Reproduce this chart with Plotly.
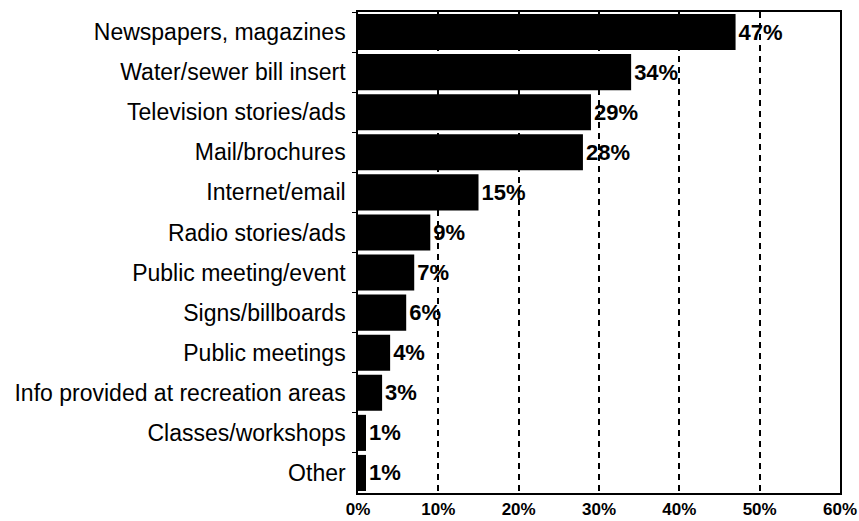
import plotly.graph_objects as go

categories = [
    "Newspapers, magazines",
    "Water/sewer bill insert",
    "Television stories/ads",
    "Mail/brochures",
    "Internet/email",
    "Radio stories/ads",
    "Public meeting/event",
    "Signs/billboards",
    "Public meetings",
    "Info provided at recreation areas",
    "Classes/workshops",
    "Other",
]
values = [47, 34, 29, 28, 15, 9, 7, 6, 4, 3, 1, 1]
x_tick_values = [0, 10, 20, 30, 40, 50, 60]
x_tick_labels = ["0%", "10%", "20%", "30%", "40%", "50%", "60%"]

FONT = "Liberation Sans, Arial, sans-serif"

fig = go.Figure(
    go.Bar(
        y=categories,
        x=values,
        orientation="h",
        marker=dict(color="black", line=dict(width=0)),
        text=[f"{v}%" for v in values],
        textposition="outside",
        textfont=dict(family=FONT, size=22, color="black", weight="bold"),
        cliponaxis=False,
    )
)

fig.update_layout(
    width=859,
    height=521,
    margin=dict(l=358, r=19, t=12, b=28, autoexpand=False),
    paper_bgcolor="white",
    plot_bgcolor="white",
    bargap=0.1,
    showlegend=False,
    font=dict(family=FONT, color="black"),
)

fig.update_xaxes(
    range=[0, 60],
    tickvals=x_tick_values,
    ticktext=x_tick_labels,
    tickfont=dict(family=FONT, size=17, color="black", weight="bold"),
    showgrid=True,
    gridcolor="black",
    gridwidth=1.5,
    griddash="6px,5px",
    showline=True,
    linecolor="black",
    linewidth=1.5,
    mirror=True,
    zeroline=False,
    ticks="",
    ticklabelstandoff=0,
    automargin=False,
)

fig.update_yaxes(
    autorange="reversed",
    tickfont=dict(family=FONT, size=23, color="black"),
    showline=True,
    linecolor="black",
    linewidth=1.5,
    mirror=True,
    showgrid=False,
    ticks="outside",
    tickson="boundaries",
    ticklen=4,
    tickcolor="black",
    ticklabelstandoff=6,
    automargin=False,
)

fig.write_html(
    "out.html",
    config={"displayModeBar": False},
    post_script="document.body.style.margin='0';document.body.style.padding='0';",
)
